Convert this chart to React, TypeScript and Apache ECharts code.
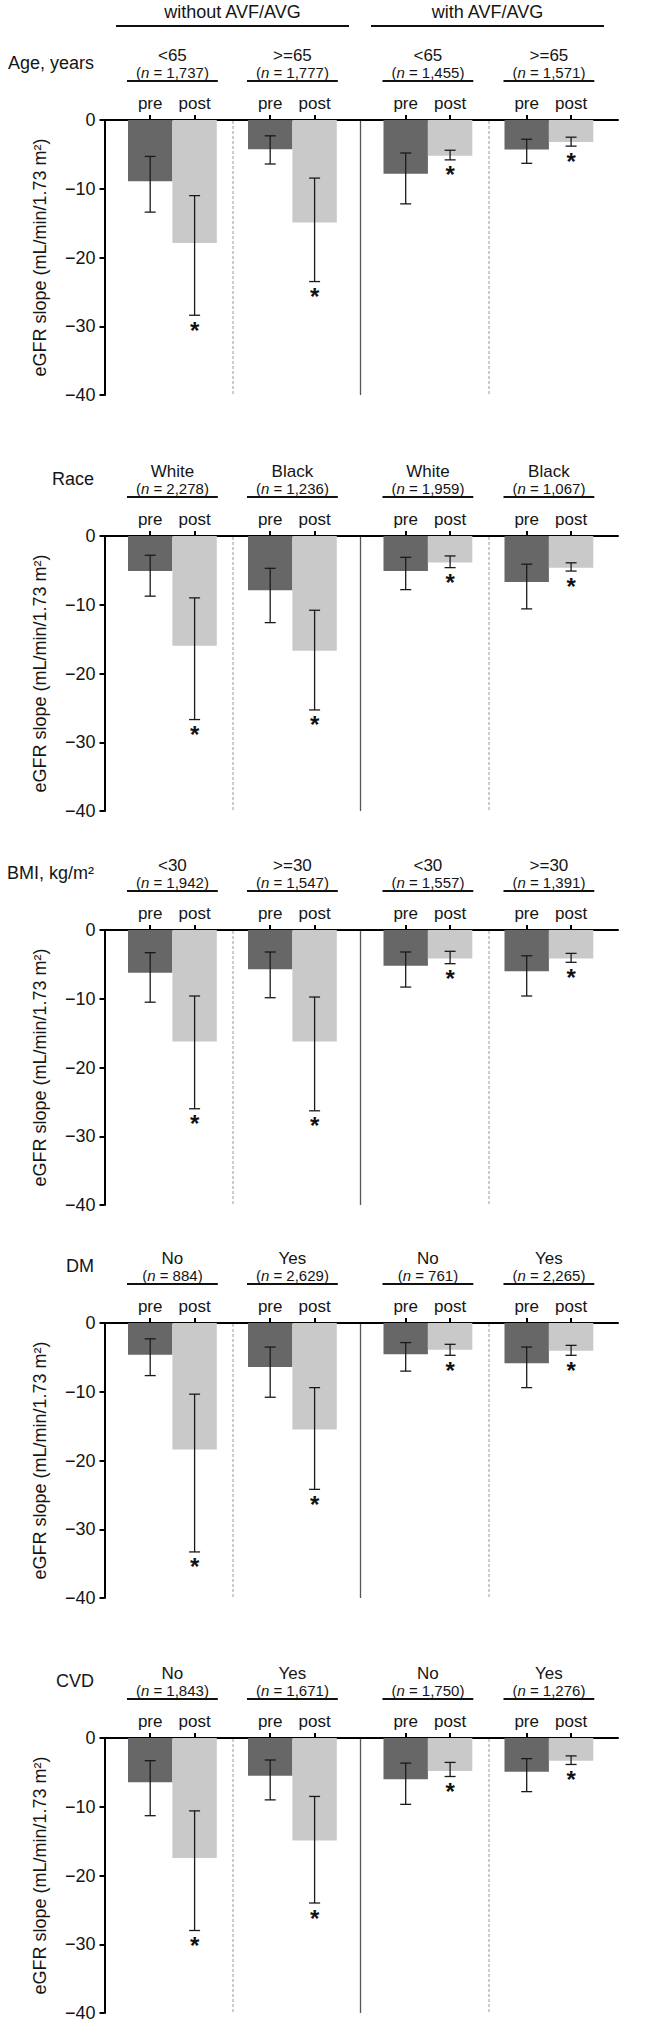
import React, { useEffect, useRef } from "react";
import * as echarts from "echarts";

// ---------- data ----------
const accessGroups = ["without AVF/AVG", "with AVF/AVG"];
const timepoints = ["pre", "post"];
const factors = ["Age, years", "Race", "BMI, kg/m²", "DM", "CVD"];
const subgroupLabels = [
  ["<65", ">=65", "<65", ">=65"],
  ["White", "Black", "White", "Black"],
  ["<30", ">=30", "<30", ">=30"],
  ["No", "Yes", "No", "Yes"],
  ["No", "Yes", "No", "Yes"],
];
const nValues = [
  ["1,737", "1,777", "1,455", "1,571"],
  ["2,278", "1,236", "1,959", "1,067"],
  ["1,942", "1,547", "1,557", "1,391"],
  ["884", "2,629", "761", "2,265"],
  ["1,843", "1,671", "1,750", "1,276"],
];
const preMean = [
  [-8.9, -4.25, -7.8, -4.3],
  [-5.1, -7.9, -5.1, -6.7],
  [-6.2, -5.7, -5.2, -6.0],
  [-4.6, -6.4, -4.55, -5.85],
  [-6.45, -5.5, -6.0, -4.9],
];
const preLow = [
  [-13.4, -6.4, -12.2, -6.3],
  [-8.75, -12.6, -7.8, -10.6],
  [-10.5, -9.85, -8.3, -9.6],
  [-7.65, -10.8, -7.0, -9.4],
  [-11.3, -9.0, -9.65, -7.8],
];
const preHigh = [
  [-5.3, -2.3, -4.8, -2.8],
  [-2.8, -4.7, -3.1, -4.1],
  [-3.3, -3.2, -3.2, -3.75],
  [-2.3, -3.5, -2.85, -3.5],
  [-3.3, -3.2, -3.65, -3.0],
];
const postMean = [
  [-17.9, -14.9, -5.2, -3.2],
  [-15.95, -16.7, -3.85, -4.6],
  [-16.2, -16.2, -4.15, -4.15],
  [-18.4, -15.5, -3.9, -4.05],
  [-17.45, -14.9, -4.8, -3.3],
];
const postLow = [
  [-28.4, -23.5, -5.8, -3.8],
  [-26.7, -25.3, -4.6, -5.1],
  [-26.0, -26.3, -4.9, -4.7],
  [-33.3, -24.2, -4.7, -4.7],
  [-28.0, -24.0, -5.6, -3.85],
];
const postHigh = [
  [-11.0, -8.45, -4.4, -2.5],
  [-9.0, -10.8, -2.9, -3.9],
  [-9.6, -9.75, -3.1, -3.4],
  [-10.35, -9.4, -3.1, -3.25],
  [-10.6, -8.5, -3.55, -2.6],
];
const postSignificant = [
  [true, true, true, true],
  [true, true, true, true],
  [true, true, true, true],
  [true, true, true, true],
  [true, true, true, true],
];
const yMin = -40;
const yMax = 0;
const yStep = 10;
const yTitle = "eGFR slope (mL/min/1.73 m²)";

// ---------- layout ----------
const W = 648;
const H = 2024;
const FONT = "'Liberation Sans', Arial, Helvetica, sans-serif";
const ZERO_Y = [120, 536, 930, 1323, 1738];
const AXIS_H = 275;
const AXIS_LEFT = 104.5;
const AXIS_RIGHT = 618;
const BAR_W = 44.4;
const GROUP_START = [128, 248, 383.5, 504.5];
const DOTTED_X = [233, 489];
const SOLID_X = 360.5;
const TXT = "#151515";
const PRE_COLOR = "#676767";
const POST_COLOR = "#c9c9c9";

export default function App() {
  const ref = useRef<HTMLDivElement>(null);

  useEffect(() => {
    if (!ref.current) return;
    const chart = echarts.init(ref.current, null, { renderer: "svg" });

    const grid: any[] = [];
    const xAxis: any[] = [];
    const yAxis: any[] = [];
    const series: any[] = [];
    const graphic: any[] = [];

    // header (top of figure)
    const headerCenters = [232.5, 487.5];
    const headerSpans = [
      [116, 349],
      [371, 604],
    ];
    accessGroups.forEach((g, i) => {
      graphic.push({
        type: "text",
        x: headerCenters[i],
        y: 12,
        style: {
          text: g,
          fontSize: 18,
          fontFamily: FONT,
          fill: TXT,
          align: "center",
          verticalAlign: "middle",
        },
      });
      graphic.push({
        type: "line",
        shape: { x1: headerSpans[i][0], y1: 26, x2: headerSpans[i][1], y2: 26 },
        style: { stroke: "#111", lineWidth: 2 },
      });
    });

    ZERO_Y.forEach((z, p) => {
      // main grid: y axis + zero line
      const mainIdx = grid.length;
      grid.push({ left: AXIS_LEFT, top: z, width: AXIS_RIGHT - AXIS_LEFT, height: AXIS_H });
      xAxis.push({
        type: "value",
        gridIndex: mainIdx,
        min: 0,
        max: 1,
        position: "top",
        axisLine: { show: true, onZero: false, lineStyle: { color: "#000", width: 2 } },
        axisTick: { show: false },
        axisLabel: { show: false },
        splitLine: { show: false },
      });
      yAxis.push({
        type: "value",
        gridIndex: mainIdx,
        min: yMin,
        max: yMax,
        interval: yStep,
        axisLine: { show: true, lineStyle: { color: "#000", width: 2 } },
        axisTick: { show: true, length: 5, lineStyle: { color: "#000", width: 2 } },
        axisLabel: {
          fontSize: 18,
          fontFamily: FONT,
          color: TXT,
          margin: 9,
          formatter: (v: number) => (v < 0 ? "\u2212" + Math.abs(v) : String(v)),
        },
        splitLine: { show: false },
        name: yTitle,
        nameLocation: "middle",
        nameRotate: 90,
        nameGap: 56,
        nameTextStyle: { fontSize: 18, fontFamily: FONT, color: TXT },
      });

      // factor label
      graphic.push({
        type: "text",
        x: 94,
        y: z - 57,
        style: {
          text: factors[p],
          fontSize: 18,
          fontFamily: FONT,
          fill: TXT,
          align: "right",
          verticalAlign: "middle",
        },
      });

      // dividers
      graphic.push({
        type: "line",
        shape: { x1: SOLID_X, y1: z, x2: SOLID_X, y2: z + AXIS_H },
        style: { stroke: "#555", lineWidth: 1.3 },
      });
      DOTTED_X.forEach((dx) => {
        graphic.push({
          type: "line",
          shape: { x1: dx, y1: z + 1, x2: dx, y2: z + AXIS_H },
          style: { stroke: "#999", lineWidth: 1, lineDash: [3, 2] },
        });
      });

      GROUP_START.forEach((gx, g) => {
        const cx = gx + BAR_W;
        // subgroup label
        graphic.push({
          type: "text",
          x: cx,
          y: z - 65,
          style: {
            text: subgroupLabels[p][g],
            fontSize: 17,
            fontFamily: FONT,
            fill: TXT,
            align: "center",
            verticalAlign: "middle",
          },
        });
        graphic.push({
          type: "text",
          x: cx,
          y: z - 47.5,
          style: {
            text: "({i|n} = " + nValues[p][g] + ")",
            fontSize: 15,
            fontFamily: FONT,
            fill: TXT,
            align: "center",
            verticalAlign: "middle",
            rich: {
              i: { fontStyle: "italic", fontSize: 15, fontFamily: FONT, fill: TXT },
            },
          },
        });
        graphic.push({
          type: "line",
          shape: { x1: gx - 1, y1: z - 39, x2: gx + 2 * BAR_W + 1, y2: z - 39 },
          style: { stroke: "#111", lineWidth: 2 },
        });

        const gi = grid.length;
        grid.push({ left: gx, top: z, width: 2 * BAR_W, height: AXIS_H });
        xAxis.push({
          type: "category",
          gridIndex: gi,
          data: timepoints,
          position: "top",
          axisLine: { show: false },
          axisTick: { show: true, alignWithLabel: true, length: 5, lineStyle: { color: "#000", width: 2 } },
          axisLabel: { fontSize: 17, fontFamily: FONT, color: TXT, margin: 8 },
          splitLine: { show: false },
        });
        yAxis.push({ type: "value", gridIndex: gi, min: yMin, max: yMax, show: false });

        series.push({
          type: "bar",
          xAxisIndex: gi,
          yAxisIndex: gi,
          barWidth: "100%",
          data: [
            { value: preMean[p][g], itemStyle: { color: PRE_COLOR } },
            { value: postMean[p][g], itemStyle: { color: POST_COLOR } },
          ],
          z: 2,
        });
        series.push({
          type: "custom",
          xAxisIndex: gi,
          yAxisIndex: gi,
          z: 5,
          encode: { x: 0, y: [1, 2] },
          data: [
            [0, preLow[p][g], preHigh[p][g], 0],
            [1, postLow[p][g], postHigh[p][g], postSignificant[p][g] ? 1 : 0],
          ],
          renderItem: (params: any, api: any) => {
            const idx = api.value(0);
            const lo = api.coord([idx, api.value(1)]);
            const hi = api.coord([idx, api.value(2)]);
            const x = lo[0];
            const cap = 5.5;
            const st = { stroke: "#1a1a1a", lineWidth: 1.3 };
            const children: any[] = [
              { type: "line", shape: { x1: x, y1: hi[1], x2: x, y2: lo[1] }, style: st },
              { type: "line", shape: { x1: x - cap, y1: hi[1], x2: x + cap, y2: hi[1] }, style: st },
              { type: "line", shape: { x1: x - cap, y1: lo[1], x2: x + cap, y2: lo[1] }, style: st },
            ];
            if (api.value(3) === 1) {
              children.push({
                type: "text",
                x: x,
                y: lo[1] + 15,
                style: {
                  text: "*",
                  fontSize: 24,
                  fontWeight: "bold",
                  fontFamily: FONT,
                  fill: "#111",
                  align: "center",
                  verticalAlign: "middle",
                },
              });
            }
            return { type: "group", children };
          },
        });
      });
    });

    chart.setOption({
      animation: false,
      backgroundColor: "#ffffff",
      grid,
      xAxis,
      yAxis,
      series,
      graphic,
    });

    return () => chart.dispose();
  }, []);

  return (
    <div
      ref={ref}
      style={{ position: "absolute", left: 0, top: 0, width: W, height: H, background: "#fff" }}
    />
  );
}
